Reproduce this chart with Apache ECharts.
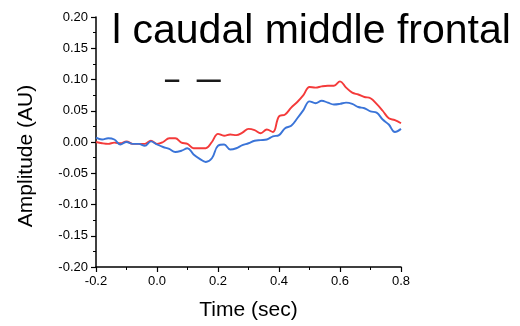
<!DOCTYPE html>
<html>
<head>
<meta charset="utf-8">
<script src="https://cdn.jsdelivr.net/npm/echarts@6/dist/echarts.min.js"></script>
<style>html,body{margin:0;padding:0;background:#fff}#c{width:520px;height:326px}</style>
</head>
<body>
<div id="c"></div>
<script>
var titleText = 'l caudal middle frontal';
var xName = 'Time (sec)';
var yName = 'Amplitude (AU)';
var times = [-0.20,-0.18,-0.16,-0.14,-0.12,-0.10,-0.08,-0.06,-0.04,-0.02,
  0.00,0.02,0.04,0.06,0.08,0.10,0.12,0.14,0.16,0.18,
  0.20,0.22,0.24,0.26,0.28,0.30,0.32,0.34,0.36,0.38,
  0.40,0.42,0.44,0.46,0.48,0.50,0.52,0.54,0.56,0.58,
  0.60,0.62,0.64,0.66,0.68,0.70,0.72,0.74,0.76,0.78,0.80];
var redValues = [0.000,-0.002,-0.003,-0.001,-0.002,0.001,-0.003,-0.003,-0.003,0.002,
  -0.003,0.000,0.006,0.006,-0.001,-0.003,-0.010,-0.010,-0.010,0.000,
  0.013,0.010,0.012,0.011,0.015,0.021,0.019,0.014,0.020,0.016,
  0.041,0.044,0.055,0.064,0.075,0.088,0.087,0.089,0.090,0.090,
  0.097,0.087,0.079,0.076,0.072,0.070,0.061,0.050,0.038,0.035,0.030];
var blueValues = [0.007,0.004,0.006,0.004,-0.004,0.000,-0.003,-0.003,-0.006,0.001,
  -0.004,-0.008,-0.011,-0.016,-0.014,-0.010,-0.020,-0.027,-0.032,-0.026,
  -0.006,-0.004,-0.012,-0.010,-0.005,-0.002,0.002,0.003,0.004,0.009,
  0.011,0.022,0.026,0.038,0.051,0.065,0.062,0.066,0.063,0.060,
  0.061,0.063,0.061,0.056,0.054,0.049,0.047,0.036,0.028,0.016,0.021];
var sigStarts = [0.026, 0.130];
var sigEnds = [0.073, 0.209];
var sigLevel = 0.098;
var xTicks = [-0.2, 0.8, 0.2];
var yTicks = [-0.20, 0.20, 0.05];

var FONT = 'Liberation Sans, Arial, sans-serif';
function pairs(xs, ys){ return xs.map(function(x,i){ return [x, ys[i]]; }); }
var sigData = [];
sigStarts.forEach(function(s,i){
  sigData.push([s, sigLevel]); sigData.push([sigEnds[i], sigLevel]); sigData.push('-');
});

var chart = echarts.init(document.getElementById('c'), null, {renderer:'canvas'});
chart.setOption({
  animation:false,
  backgroundColor:'#fff',
  title:{text:titleText,left:112,top:11,padding:0,
    textStyle:{fontFamily:FONT,fontSize:41,fontWeight:'normal',color:'#000'}},
  grid:{left:96,right:119,top:17,bottom:59,containLabel:false},
  xAxis:{type:'value',min:xTicks[0],max:xTicks[1],interval:xTicks[2],
    name:xName,nameLocation:'middle',nameGap:33,
    nameTextStyle:{fontFamily:FONT,fontSize:21,color:'#000'},
    axisLine:{onZero:false,lineStyle:{color:'#000',width:1.5}},
    axisTick:{show:true,inside:false,length:5,lineStyle:{color:'#000',width:1.2}},
    minorTick:{show:true,splitNumber:2,length:3,lineStyle:{color:'#000',width:1}},
    axisLabel:{margin:8,fontFamily:FONT,fontSize:13,color:'#000',
      formatter:function(v){return v.toFixed(1);}},
    splitLine:{show:false}},
  yAxis:{type:'value',min:yTicks[0],max:yTicks[1],interval:yTicks[2],
    axisLine:{show:true,onZero:false,lineStyle:{color:'#000',width:1.5}},
    axisTick:{show:true,inside:false,length:5,lineStyle:{color:'#000',width:1.2}},
    minorTick:{show:true,splitNumber:2,length:3,lineStyle:{color:'#000',width:1}},
    axisLabel:{margin:8,fontFamily:FONT,fontSize:13,color:'#000',
      formatter:function(v){return v.toFixed(2);}},
    splitLine:{show:false}},
  graphic:[{type:'text',x:26,y:156,rotation:Math.PI/2,
    style:{text:yName,font:'21px '+FONT,fill:'#000',align:'center',verticalAlign:'middle'}}],
  series:[
    {type:'line',data:pairs(times,redValues),smooth:0.4,showSymbol:false,
      lineStyle:{color:'#f43a3a',width:1.9},itemStyle:{color:'#f43a3a'}},
    {type:'line',data:pairs(times,blueValues),smooth:0.4,showSymbol:false,
      lineStyle:{color:'#3a74d8',width:1.9},itemStyle:{color:'#3a74d8'}},
    {type:'line',data:sigData,showSymbol:false,connectNulls:false,
      lineStyle:{color:'#1a1a1a',width:2.5},itemStyle:{color:'#1a1a1a'}}
  ]
});
</script>
</body>
</html>
